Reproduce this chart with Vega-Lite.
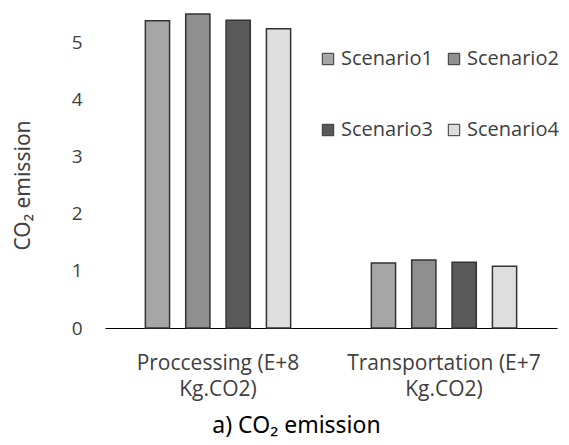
{
  "$schema": "https://vega.github.io/schema/vega-lite/v6.json",
  "width": 452,
  "height": 314,
  "autosize": "none",
  "padding": {"left": 105, "top": 14, "right": 12, "bottom": 117},
  "background": "white",
  "config": {"view": {"stroke": null}, "font": "Open Sans"},
  "data": {
    "values": [
      {"category": "Proccessing (E+8 Kg.CO2)", "scenario": "Scenario1", "value": 5.38},
      {"category": "Proccessing (E+8 Kg.CO2)", "scenario": "Scenario2", "value": 5.5},
      {"category": "Proccessing (E+8 Kg.CO2)", "scenario": "Scenario3", "value": 5.39},
      {"category": "Proccessing (E+8 Kg.CO2)", "scenario": "Scenario4", "value": 5.24},
      {"category": "Transportation (E+7 Kg.CO2)", "scenario": "Scenario1", "value": 1.14},
      {"category": "Transportation (E+7 Kg.CO2)", "scenario": "Scenario2", "value": 1.19},
      {"category": "Transportation (E+7 Kg.CO2)", "scenario": "Scenario3", "value": 1.15},
      {"category": "Transportation (E+7 Kg.CO2)", "scenario": "Scenario4", "value": 1.08}
    ]
  },
  "mark": {"type": "bar", "stroke": "#333333", "strokeWidth": 1.5},
  "encoding": {
    "x": {
      "field": "category",
      "type": "nominal",
      "sort": null,
      "scale": {"paddingInner": 0, "paddingOuter": 0},
      "axis": {
        "title": "a) CO₂ emission",
        "titleFont": "Noto Sans",
        "titleFontSize": 23,
        "titleFontWeight": "normal",
        "titleColor": "#000000",
        "titleX": 191,
        "titleY": 104,
        "titleBaseline": "alphabetic",
        "titleAlign": "center",
        "domain": true,
        "domainColor": "#000000",
        "domainWidth": 1.2,
        "ticks": false,
        "labelAngle": 0,
        "labelPadding": 24,
        "labelFontSize": 21,
        "labelLimit": 400,
        "labelColor": "#404040",
        "labelLineHeight": 26,
        "labelBaseline": "top",
        "labelExpr": "[slice(datum.label, 0, indexof(datum.label, ' Kg')), 'Kg.CO2)']"
      }
    },
    "xOffset": {
      "field": "scenario",
      "type": "nominal",
      "scale": {"paddingInner": 0.4, "paddingOuter": 1.05}
    },
    "y": {
      "field": "value",
      "type": "quantitative",
      "scale": {"domain": [0, 5.5], "nice": false},
      "axis": {
        "values": [0, 1, 2, 3, 4, 5],
        "grid": false,
        "domain": false,
        "ticks": false,
        "labelPadding": 23,
        "labelFontSize": 19,
        "labelColor": "#404040",
        "title": "CO₂ emission",
        "titleFont": "Noto Sans",
        "titleFontSize": 21,
        "titleFontWeight": "normal",
        "titleColor": "#404040",
        "titleX": -82,
        "titleY": 171,
        "titleAngle": -90,
        "titleAlign": "center",
        "titleBaseline": "middle"
      }
    },
    "fill": {
      "field": "scenario",
      "type": "nominal",
      "scale": {"range": ["#a6a6a6", "#8f8f8f", "#595959", "#dedede"]},
      "legend": {
        "title": null,
        "orient": "none",
        "direction": "horizontal",
        "legendX": 213,
        "legendY": 35,
        "columns": 2,
        "columnPadding": 11,
        "rowPadding": 51,
        "symbolType": "square",
        "symbolSize": 130,
        "symbolStrokeColor": "#333333",
        "symbolStrokeWidth": 1,
        "labelFontSize": 20,
        "labelLimit": 200,
        "labelColor": "#404040",
        "labelOffset": 3
      }
    }
  }
}
